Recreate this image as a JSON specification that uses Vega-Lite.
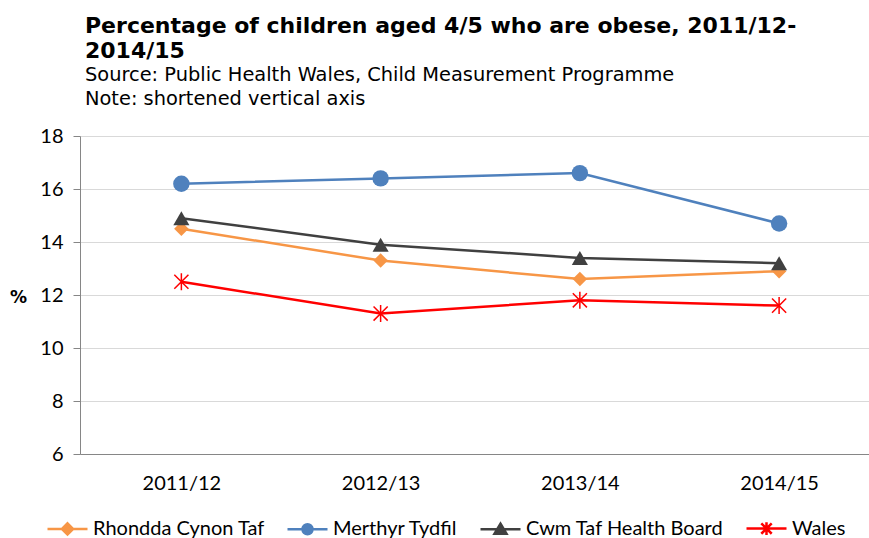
{
  "$schema": "https://vega.github.io/schema/vega-lite/v6.json",
  "width": 789,
  "height": 318,
  "autosize": {"type": "none"},
  "padding": {"left": 80, "top": 136, "right": 0, "bottom": 84},
  "background": "white",
  "title": {
    "text": ["Percentage of children aged 4/5 who are obese,  2011/12-", "2014/15"],
    "subtitle": ["Source: Public Health Wales, Child Measurement Programme", "Note: shortened vertical axis"],
    "anchor": "start",
    "frame": "group",
    "dx": 5,
    "offset": 17,
    "font": "DejaVu Sans",
    "fontSize": 22,
    "fontWeight": "bold",
    "lineHeight": 25.5,
    "color": "#000000",
    "subtitleFont": "DejaVu Sans",
    "subtitleFontSize": 19.4,
    "subtitleLineHeight": 23.3,
    "subtitlePadding": 3,
    "subtitleColor": "#000000"
  },
  "data": {
    "values": [
      {"year": "2011/12", "series": "Rhondda Cynon Taf", "v": 14.5},
      {"year": "2012/13", "series": "Rhondda Cynon Taf", "v": 13.3},
      {"year": "2013/14", "series": "Rhondda Cynon Taf", "v": 12.6},
      {"year": "2014/15", "series": "Rhondda Cynon Taf", "v": 12.9},
      {"year": "2011/12", "series": "Merthyr Tydfil", "v": 16.2},
      {"year": "2012/13", "series": "Merthyr Tydfil", "v": 16.4},
      {"year": "2013/14", "series": "Merthyr Tydfil", "v": 16.6},
      {"year": "2014/15", "series": "Merthyr Tydfil", "v": 14.7},
      {"year": "2011/12", "series": "Cwm Taf Health Board", "v": 14.9},
      {"year": "2012/13", "series": "Cwm Taf Health Board", "v": 13.9},
      {"year": "2013/14", "series": "Cwm Taf Health Board", "v": 13.4},
      {"year": "2014/15", "series": "Cwm Taf Health Board", "v": 13.2},
      {"year": "2011/12", "series": "Wales", "v": 12.5},
      {"year": "2012/13", "series": "Wales", "v": 11.3},
      {"year": "2013/14", "series": "Wales", "v": 11.8},
      {"year": "2014/15", "series": "Wales", "v": 11.6}
    ]
  },
  "encoding": {
    "x": {
      "field": "year",
      "type": "nominal",
      "scale": {"type": "point", "padding": 0.48, "align": 0.53},
      "axis": {
        "title": null,
        "labelAngle": 0,
        "ticks": false,
        "tickSize": 0,
        "grid": false,
        "domainColor": "#868686",
        "domainWidth": 1,
        "labelPadding": 19,
        "labelFont": "Lato",
        "labelFontSize": 20,
        "labelColor": "#000000"
      }
    },
    "y": {
      "field": "v",
      "type": "quantitative",
      "scale": {"domain": [6, 18], "nice": false, "zero": false},
      "axis": {
        "values": [6, 8, 10, 12, 14, 16, 18],
        "title": "%",
        "titleAngle": 0,
        "titleX": -62,
        "titleY": 161,
        "titleAlign": "center",
        "titleBaseline": "middle",
        "titleFont": "DejaVu Sans",
        "titleFontSize": 17,
        "titleFontWeight": "bold",
        "titleColor": "#000000",
        "grid": true,
        "gridColor": "#d9d9d9",
        "gridWidth": 1,
        "domainColor": "#868686",
        "tickColor": "#868686",
        "tickSize": 7,
        "labelPadding": 10,
        "labelFont": "Lato",
        "labelFontSize": 20,
        "labelColor": "#000000"
      }
    }
  },
  "layer": [
    {
      "mark": {"type": "line", "strokeWidth": 2.5},
      "encoding": {
        "color": {
          "field": "series", "type": "nominal",
          "scale": {"domain": ["Rhondda Cynon Taf", "Merthyr Tydfil", "Cwm Taf Health Board", "Wales"], "range": ["#F79646", "#4F81BD", "#404040", "#FF0000"]},
          "legend": {"title": null}
        }
      }
    },
    {
      "transform": [{"filter": "datum.series == 'Rhondda Cynon Taf'"}],
      "mark": {"type": "point", "shape": "diamond", "filled": true, "size": 210, "opacity": 1},
      "encoding": {
        "color": {
          "field": "series", "type": "nominal",
          "scale": {"domain": ["Rhondda Cynon Taf", "Merthyr Tydfil", "Cwm Taf Health Board", "Wales"], "range": ["#F79646", "#4F81BD", "#404040", "#FF0000"]},
          "legend": {"title": null}
        }
      }
    },
    {
      "transform": [{"filter": "datum.series == 'Merthyr Tydfil'"}],
      "mark": {"type": "point", "shape": "circle", "filled": true, "size": 270, "opacity": 1},
      "encoding": {
        "color": {
          "field": "series", "type": "nominal",
          "scale": {"domain": ["Rhondda Cynon Taf", "Merthyr Tydfil", "Cwm Taf Health Board", "Wales"], "range": ["#F79646", "#4F81BD", "#404040", "#FF0000"]},
          "legend": {"title": null}
        }
      }
    },
    {
      "transform": [{"filter": "datum.series == 'Cwm Taf Health Board'"}],
      "mark": {"type": "point", "shape": "triangle-up", "filled": true, "size": 260, "opacity": 1},
      "encoding": {
        "color": {
          "field": "series", "type": "nominal",
          "scale": {"domain": ["Rhondda Cynon Taf", "Merthyr Tydfil", "Cwm Taf Health Board", "Wales"], "range": ["#F79646", "#4F81BD", "#404040", "#FF0000"]},
          "legend": {"title": null}
        }
      }
    },
    {
      "transform": [{"filter": "datum.series == 'Wales'"}],
      "mark": {"type": "point", "shape": "M-1,-1L1,1M-1,1L1,-1M0,-1.2L0,1.2", "filled": false, "size": 200, "strokeWidth": 1.5, "opacity": 1},
      "encoding": {
        "color": {
          "field": "series", "type": "nominal",
          "scale": {"domain": ["Rhondda Cynon Taf", "Merthyr Tydfil", "Cwm Taf Health Board", "Wales"], "range": ["#F79646", "#4F81BD", "#404040", "#FF0000"]},
          "legend": {"title": null}
        }
      }
    },
    {
      "transform": [{"filter": "datum.v < 0"}],
      "mark": {"type": "point", "filled": false, "opacity": 1, "strokeWidth": 2.5},
      "encoding": {
        "color": {
          "field": "series", "type": "nominal",
          "scale": {"domain": ["Rhondda Cynon Taf", "Merthyr Tydfil", "Cwm Taf Health Board", "Wales"], "range": ["#F79646", "#4F81BD", "#404040", "#FF0000"]},
          "legend": {"title": null}
        },
        "fill": {
          "field": "series", "type": "nominal",
          "scale": {"domain": ["Rhondda Cynon Taf", "Merthyr Tydfil", "Cwm Taf Health Board", "Wales"], "range": ["#F79646", "#4F81BD", "#404040", "#FF0000"]},
          "legend": {"title": null}
        },
        "shape": {
          "field": "series", "type": "nominal",
          "scale": {
            "domain": ["Rhondda Cynon Taf", "Merthyr Tydfil", "Cwm Taf Health Board", "Wales"],
            "range": [
              "M-1,0L1,0M0,-0.28L0.28,0L0,0.28L-0.28,0Z",
              "M-1,0L1,0M-0.25,0A0.25,0.25 0 1,0 0.25,0A0.25,0.25 0 1,0 -0.25,0Z",
              "M-1,0L1,0M0,-0.28L0.3,0.22L-0.3,0.22Z",
              "M-1,0L1,0M-0.26,-0.26L0.26,0.26M-0.26,0.26L0.26,-0.26M0,-0.32L0,0.32"
            ]
          },
          "legend": {"title": null}
        }
      }
    }
  ],
  "config": {
    "view": {"stroke": null},
    "legend": {
      "orient": "none",
      "legendX": -34,
      "legendY": 371,
      "direction": "horizontal",
      "labelFont": "Lato",
      "labelFontSize": 20,
      "labelColor": "#000000",
      "symbolSize": 1600,
      "symbolStrokeWidth": 2.5,
      "labelOffset": 4,
      "columnPadding": 17,
      "labelLimit": 400
    }
  }
}
